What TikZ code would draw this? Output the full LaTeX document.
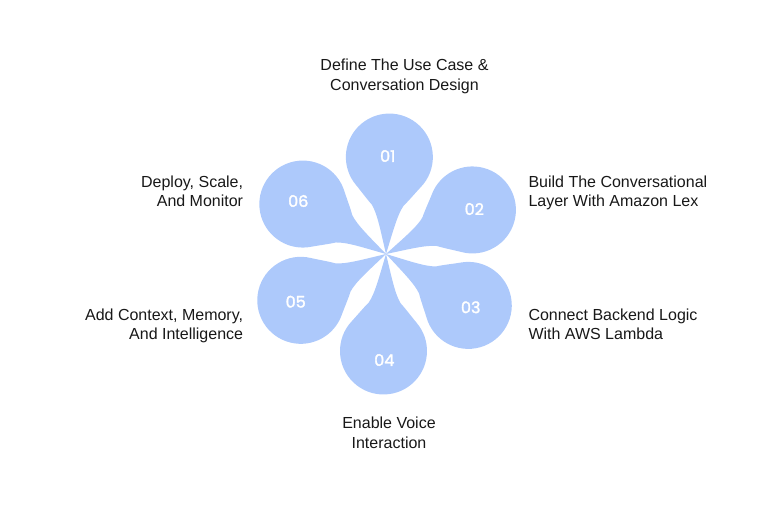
\documentclass[tikz,border=0pt]{standalone}
\usepackage{fontspec}
\setmainfont{Liberation Sans}
\newfontfamily\numfont{Poppins}[FakeBold=2]
\definecolor{petalblue}{RGB}{173,201,251}
\definecolor{labeltext}{RGB}{24,24,24}
\tikzset{
  petal/.style={fill=petalblue, draw=none},
  numlabel/.style={font=\numfont\fontsize{16}{18}\selectfont, text=white, inner sep=0pt},
  steplabel/.style={font=\fontsize{16}{19.5}\selectfont, text=labeltext, inner sep=0pt},
}
\begin{document}
\begin{tikzpicture}[x=1pt,y=1pt]
\useasboundingbox (0,0) rectangle (776,-504);
\coordinate (hub) at (386,-254);
\foreach \ang in {88,27,-32,-91.5,-151.5,149}{
  \begin{scope}[shift={(hub)}, rotate=\ang-90]
    \fill[petal] (0,0) .. controls (6,22) and (10,40) .. (16,49)
      .. controls (20.2,53.2) and (28.3,63.4) .. (32.3,67.9)
      arc[start angle=-42, end angle=222, radius=43.5]
      .. controls (-28.3,63.4) and (-20.2,53.2) .. (-16,49)
      .. controls (-10,40) and (-6,22) .. (0,0) -- cycle;
  \end{scope}
}
\node[numlabel] (n1) at (387.7,-156) {01};
\node[numlabel] (n2) at (474.3,-209) {02};
\node[numlabel] (n3) at (470.7,-307.3) {03};
\node[numlabel] (n4) at (384.3,-360) {04};
\node[numlabel] (n5) at (295.7,-301.7) {05};
\node[numlabel] (n6) at (298.3,-201) {06};

\node[steplabel, align=center, anchor=north] (t1) at (404.5,-59) {Define The Use Case \&\\Conversation Design};
\node[steplabel, align=left, anchor=north west] (t2) at (528.3,-175.5) {Build The Conversational\\Layer With Amazon Lex};
\node[steplabel, align=left, anchor=north west] (t3) at (528.3,-308.5) {Connect Backend Logic\\With AWS Lambda};
\node[steplabel, align=center, anchor=north] (t4) at (389,-416.8) {Enable Voice\\Interaction};
\node[steplabel, align=right, anchor=north east] (t5) at (243.3,-308.5) {Add Context, Memory,\\And Intelligence};
\node[steplabel, align=right, anchor=north east] (t6) at (243.3,-175.5) {Deploy, Scale,\\And Monitor};
\end{tikzpicture}
\end{document}
